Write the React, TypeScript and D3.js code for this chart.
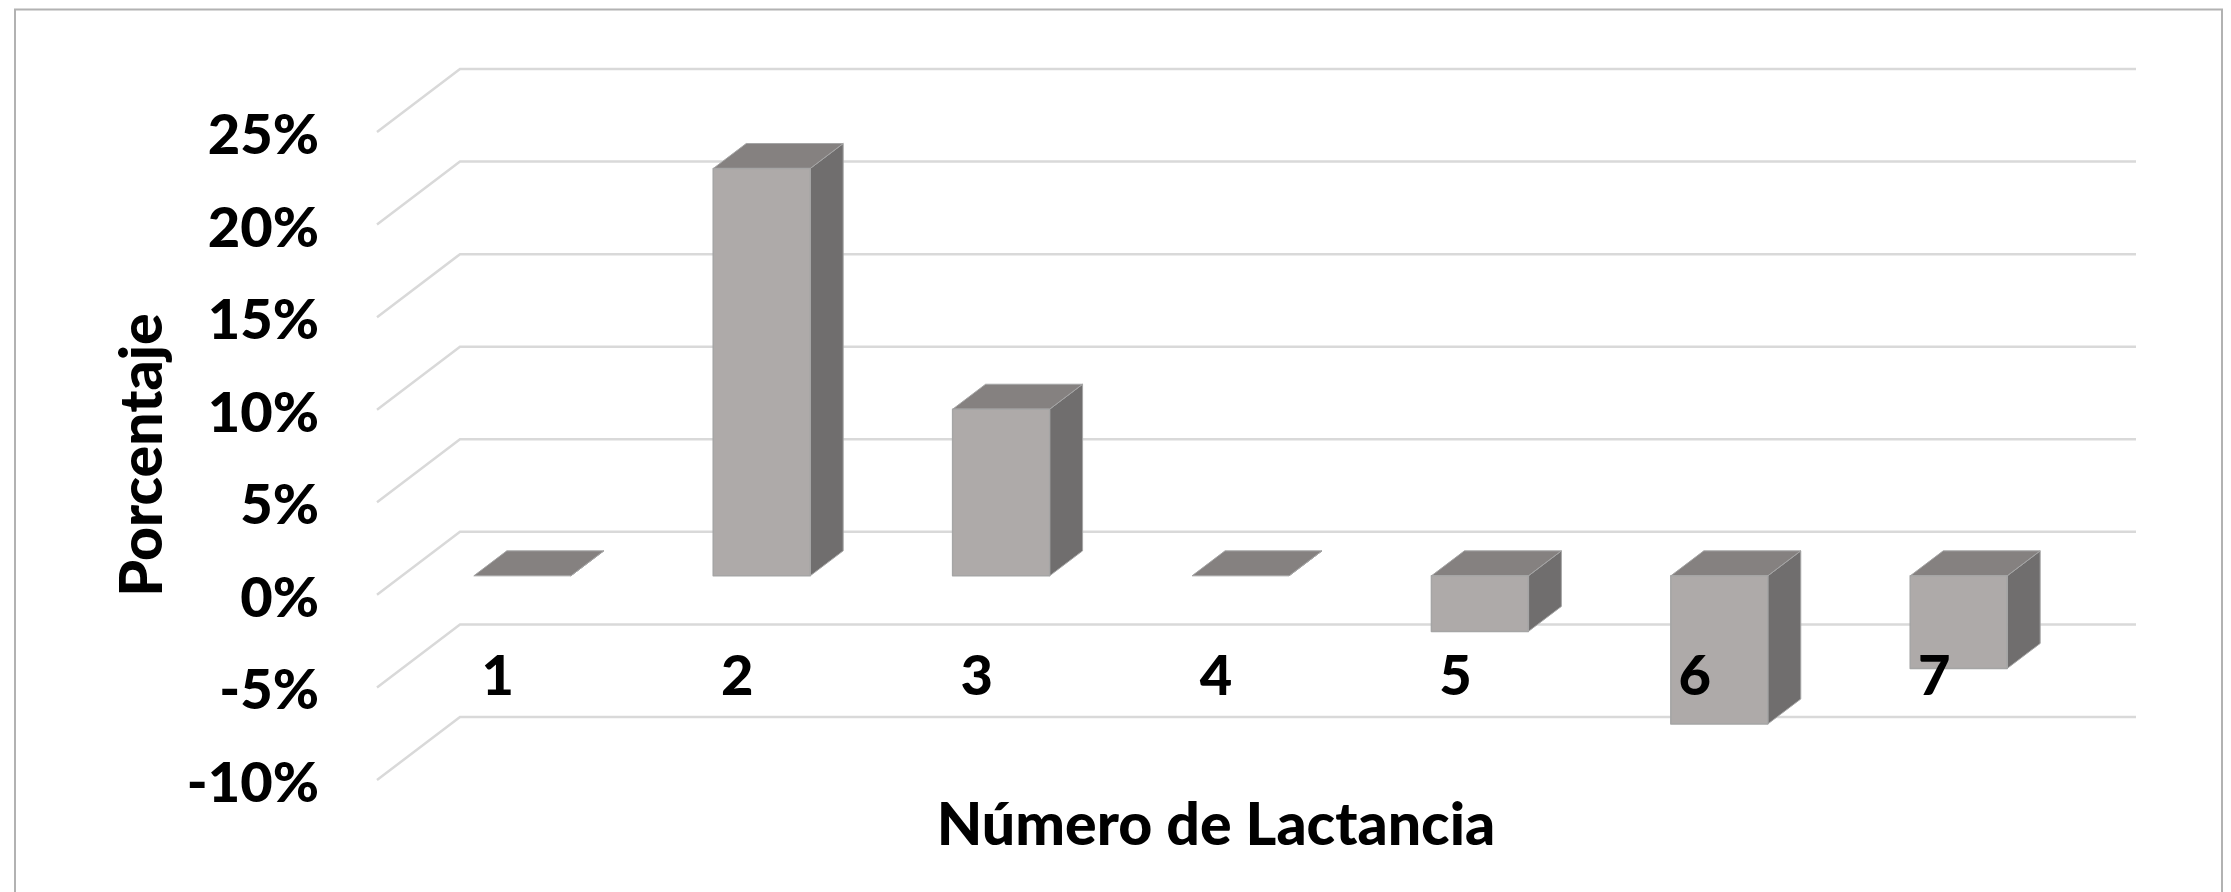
import * as d3 from 'd3'
import { useEffect, useRef } from 'react'

const categories = ['1', '2', '3', '4', '5', '6', '7']
const values = [0, 22, 9, 0, -3, -8, -5]
const yTicks = [-10, -5, 0, 5, 10, 15, 20, 25]

const W = 2231
const H = 892
const FONT = 'Lato, "Open Sans", sans-serif'

// floor depth of the 3d box, and how far the bars stand from the back wall
const wallDx = 83
const wallDy = 63
const barDx = 33
const barDy = 25
const barOffsetY = 44

export default function App() {
    const svgRef = useRef(null) as any

    useEffect(() => {
        const svg = d3.select(svgRef.current)
        svg.selectAll('*').remove()

        const yBack = d3.scaleLinear().domain([-10, 25]).range([717, 69])
        const xBand = d3.scaleBand()
            .domain(categories)
            .range([402, 2079])
            .paddingInner(0.595)
            .paddingOuter(0.3)

        // frame, open at the bottom of the picture
        svg.append('path')
            .attr('d', `M15,${H} L15,9.5 L2222,9.5 L2222,${H}`)
            .attr('fill', 'none')
            .attr('stroke', '#b2b2b2')
            .attr('stroke-width', 2)

        // gridlines with their diagonal on the floor side
        const grid = svg.append('g')
        yTicks.forEach((t) => {
            const y = yBack(t)
            grid.append('path')
                .attr('d', `M${460 - wallDx},${y + wallDy} L460,${y} L2136,${y}`)
                .attr('fill', 'none')
                .attr('stroke', '#d9d9d9')
                .attr('stroke-width', 2.5)
        })

        const zero = yBack(0) + barOffsetY
        const bars = svg.append('g')
        categories.forEach((c, i) => {
            const x0 = xBand(c) as number
            const x1 = x0 + xBand.bandwidth()
            const yv = yBack(values[i]) + barOffsetY
            const top = Math.min(yv, zero)
            const bottom = Math.max(yv, zero)
            const g = bars.append('g').attr('stroke-linejoin', 'round')

            // side
            g.append('polygon')
                .attr('points', [[x1, top], [x1 + barDx, top - barDy], [x1 + barDx, bottom - barDy], [x1, bottom]].join(' '))
                .attr('fill', '#706e6e')
                .attr('stroke', '#a5a5a5')
                .attr('stroke-width', 1)
            // top
            g.append('polygon')
                .attr('points', [[x0, top], [x0 + barDx, top - barDy], [x1 + barDx, top - barDy], [x1, top]].join(' '))
                .attr('fill', '#858180')
                .attr('stroke', '#a5a5a5')
                .attr('stroke-width', 1)
            // front
            g.append('rect')
                .attr('x', x0)
                .attr('y', top)
                .attr('width', x1 - x0)
                .attr('height', bottom - top)
                .attr('fill', '#aeaaa9')
                .attr('stroke', '#a5a5a5')
                .attr('stroke-width', 1.5)
        })

        // value labels sit by the front edge of the floor
        yTicks.forEach((t) => {
            svg.append('text')
                .attr('x', 319)
                .attr('y', yBack(t) + wallDy + 22)
                .attr('text-anchor', 'end')
                .attr('font-family', FONT)
                .attr('font-weight', 900)
                .attr('font-size', 56)
                .attr('fill', '#000')
                .text(`${t}%`)
        })

        categories.forEach((c) => {
            svg.append('text')
                .attr('x', (xBand(c) as number) + 24)
                .attr('y', 695)
                .attr('text-anchor', 'middle')
                .attr('font-family', FONT)
                .attr('font-weight', 900)
                .attr('font-size', 56)
                .attr('fill', '#000')
                .text(c)
        })

        svg.append('text')
            .attr('x', 1216)
            .attr('y', 845)
            .attr('text-anchor', 'middle')
            .attr('font-family', FONT)
            .attr('font-weight', 900)
            .attr('font-size', 59)
            .attr('fill', '#000')
            .text('Número de Lactancia')

        svg.append('text')
            .attr('transform', 'translate(162,455) rotate(-90)')
            .attr('text-anchor', 'middle')
            .attr('font-family', FONT)
            .attr('font-weight', 900)
            .attr('font-size', 59)
            .attr('fill', '#000')
            .text('Porcentaje')
    }, [])

    return (
        <svg
            ref={svgRef}
            width={W}
            height={H}
            style={{ position: 'absolute', left: 0, top: 0, background: '#fff' }}
        />
    )
}
